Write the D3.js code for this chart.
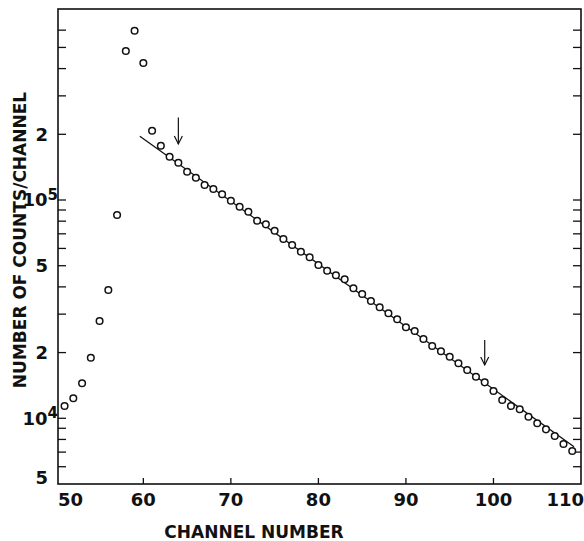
<!DOCTYPE html>
<html>
<head>
<meta charset="utf-8">
<script src="https://cdn.jsdelivr.net/npm/d3@7"></script>
<style>
  body { margin: 0; background: #fff; }
  text { font-family: "DejaVu Sans", sans-serif; font-weight: bold; fill: #111; }
</style>
</head>
<body>
<div id="chart"></div>
<script>
// data
const channels = [51,52,53,54,55,56,57,58,59,60,61,62,63,64,65,66,67,68,69,70,
  71,72,73,74,75,76,77,78,79,80,81,82,83,84,85,86,87,88,89,90,
  91,92,93,94,95,96,97,98,99,100,101,102,103,104,105,106,107,108,109]
const counts = [11380,12350,14470,18950,27910,38700,85400,481500,596400,424200,
  207700,177300,157900,148200,134800,126500,117100,112300,106200,99250,
  93180,88390,80370,77370,72330,66270,62210,57970,54640,50380,
  47440,45190,43320,39400,37100,34460,32250,30270,28410,26110,
  25110,23080,21440,20270,19150,17860,16640,15500,14610,13340,
  12130,11380,11000,10170,9490,8900,8300,7625,7084]

// straight fitted line (end points)
const fitChannels = [59.6, 109.2]
const fitCounts = [196000, 7400]

// arrows marking the fit region
const arrowChannels = [64, 99]
const arrowTop = [239000, 22840]
const arrowTip = [180500, 17540]

// ticks
const xTicks = [50, 60, 70, 80, 90, 100, 110]
const yTicks = [6000,7000,8000,9000,10000,20000,30000,40000,50000,60000,70000,80000,90000,
  100000,200000,300000,400000,500000,600000]
const yLabelValues = [5000, 10000, 20000, 50000, 100000, 200000]
const yLabelBase = ["5", "10", "2", "5", "10", "2"]
const yLabelExp = ["", "4", "", "", "5", ""]

//constants
const width = 584
const height = 541
const margins = { top: 9, bottom: 57, left: 58, right: 3 }

//SCALES
const xScale = d3.scaleLinear()
    .domain([50.25, 110])
    .range([margins.left, width - margins.right])
const yScale = d3.scaleLog()
    .domain([5000, 750000])
    .range([height - margins.bottom, margins.top])

const svg = d3.select("#chart")
    .append("svg")
    .attr("width", width)
    .attr("height", height)

//frame
svg.append("rect")
    .attr("x", margins.left)
    .attr("y", margins.top)
    .attr("width", width - margins.left - margins.right)
    .attr("height", height - margins.top - margins.bottom)
    .attr("fill", "none")
    .attr("stroke", "#111")
    .attr("stroke-width", 1.6)

//y ticks, inward on both sides
const yTickG = svg.append("g")
yTickG.selectAll("line.left")
    .data(yTicks)
    .join("line")
    .attr("class", "left")
    .attr("x1", margins.left)
    .attr("x2", margins.left + 8)
    .attr("y1", d => yScale(d))
    .attr("y2", d => yScale(d))
    .attr("stroke", "#111")
    .attr("stroke-width", 1.3)
yTickG.selectAll("line.right")
    .data(yTicks)
    .join("line")
    .attr("class", "right")
    .attr("x1", width - margins.right)
    .attr("x2", width - margins.right - 8)
    .attr("y1", d => yScale(d))
    .attr("y2", d => yScale(d))
    .attr("stroke", "#111")
    .attr("stroke-width", 1.3)

//x ticks, inward from the bottom
svg.selectAll("line.xtick")
    .data(xTicks.slice(1, -1))
    .join("line")
    .attr("class", "xtick")
    .attr("x1", d => xScale(d))
    .attr("x2", d => xScale(d))
    .attr("y1", height - margins.bottom)
    .attr("y2", height - margins.bottom - 6)
    .attr("stroke", "#111")
    .attr("stroke-width", 1.3)

//x tick labels
svg.selectAll("text.xlabel")
    .data(xTicks)
    .join("text")
    .attr("class", "xlabel")
    .attr("x", (d, i) => i === 0 ? margins.left : (i === xTicks.length - 1 ? width : xScale(d)))
    .attr("y", height - margins.bottom + 22)
    .attr("text-anchor", (d, i) => i === 0 ? "start" : (i === xTicks.length - 1 ? "end" : "middle"))
    .attr("font-size", 18)
    .text(d => d)

//y tick labels with superscripts
const yLab = svg.selectAll("text.ylabel")
    .data(yLabelValues)
    .join("text")
    .attr("class", "ylabel")
    .attr("x", (d, i) => yLabelExp[i] ? 58 : 48)
    .attr("y", (d, i) => i === 0 ? yScale(d) - 6 : yScale(d))
    .attr("dy", "0.36em")
    .attr("text-anchor", "end")
    .attr("font-size", 18)
    .text((d, i) => yLabelBase[i])
yLab.filter((d, i) => yLabelExp[i])
    .append("tspan")
    .attr("dy", "-0.45em")
    .attr("font-size", 15)
    .text(function(d) { return yLabelExp[yLabelValues.indexOf(d)] })

//fit line
const fitData = fitChannels.map((c, i) => [c, fitCounts[i]])
svg.append("path")
    .datum(fitData)
    .attr("d", d3.line().x(d => xScale(d[0])).y(d => yScale(d[1])))
    .attr("fill", "none")
    .attr("stroke", "#111")
    .attr("stroke-width", 1.3)

//points
svg.selectAll("circle")
    .data(channels)
    .join("circle")
    .attr("cx", d => xScale(d))
    .attr("cy", (d, i) => yScale(counts[i]))
    .attr("r", 3.3)
    .attr("fill", "#fff")
    .attr("stroke", "#111")
    .attr("stroke-width", 1.5)

//arrows
const arrows = svg.selectAll("g.arrow")
    .data(arrowChannels)
    .join("g")
    .attr("class", "arrow")
arrows.append("line")
    .attr("x1", d => xScale(d))
    .attr("x2", d => xScale(d))
    .attr("y1", (d, i) => yScale(arrowTop[i]))
    .attr("y2", (d, i) => yScale(arrowTip[i]))
    .attr("stroke", "#111")
    .attr("stroke-width", 1.2)
arrows.append("path")
    .attr("d", (d, i) => {
        const x = xScale(d), y = yScale(arrowTip[i])
        return `M${x - 4},${y - 8}L${x},${y}L${x + 4},${y - 8}`
    })
    .attr("fill", "none")
    .attr("stroke", "#111")
    .attr("stroke-width", 1.2)

//axis titles
svg.append("text")
    .attr("x", 254)
    .attr("y", 538)
    .attr("text-anchor", "middle")
    .attr("font-size", 17)
    .text("CHANNEL NUMBER")
svg.append("text")
    .attr("transform", "translate(26,240) rotate(-90)")
    .attr("text-anchor", "middle")
    .attr("font-size", 17)
    .text("NUMBER OF COUNTS/CHANNEL")
</script>
</body>
</html>
